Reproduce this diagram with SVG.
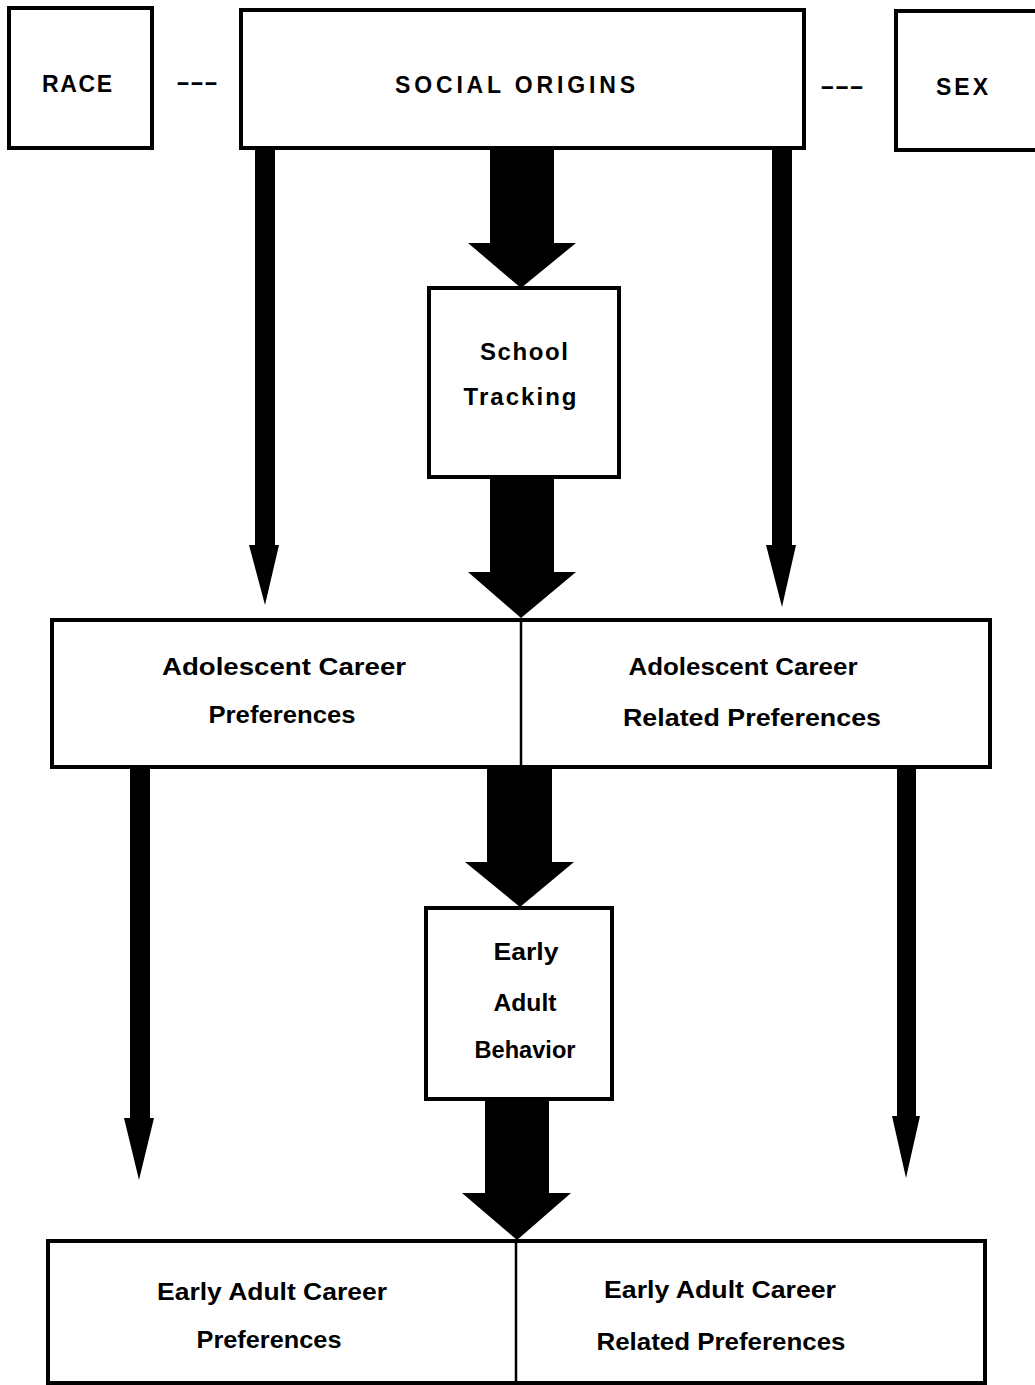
<svg xmlns="http://www.w3.org/2000/svg" width="1035" height="1385" viewBox="0 0 1035 1385">
<style>
.box{fill:#fff;stroke:#000;stroke-width:4}
.div{stroke:#000;stroke-width:2.5}
.t{font-family:"Liberation Sans",Arial,sans-serif;font-weight:bold;font-size:24px;fill:#000;text-anchor:middle}
.cap{font-size:23px}
.arr{fill:#000}
</style>
<rect width="1035" height="1385" fill="#fff"/>
<g id="connectors">
<polygon class="arr" points="255,148 275,148 275,545 279,545 265,605 249,545 255,545"/>
<polygon class="arr" points="772,148 792,148 792,545 796,545 782,607 766,545 772,545"/>
<polygon class="arr" points="490,148 554,148 554,243 576,243 521,288 468,243 490,243"/>
<polygon class="arr" points="490,477 554,477 554,572 576,572 521,618 468,572 490,572"/>
<polygon class="arr" points="130,767 150,767 150,1118 154,1118 139,1180 124,1118 130,1118"/>
<polygon class="arr" points="897,767 916,767 916,1116 920,1116 906,1178 892,1116 897,1116"/>
<polygon class="arr" points="487,767 552,767 552,862 574,862 520,907 465,862 487,862"/>
<polygon class="arr" points="485,1099 549,1099 549,1193 571,1193 517,1240 462,1193 485,1193"/>
<text class="t" x="197" y="90" textLength="42" lengthAdjust="spacingAndGlyphs">---</text>
<text class="t" x="842" y="94" textLength="44" lengthAdjust="spacingAndGlyphs">---</text>
</g>
<g id="race">
<rect class="box" x="9" y="8" width="143" height="140"/>
<text class="t cap" x="77" y="92" textLength="70">RACE</text>
</g>
<g id="social-origins">
<rect class="box" x="241" y="10" width="563" height="138"/>
<text class="t cap" x="515" y="93" textLength="240">SOCIAL  ORIGINS</text>
</g>
<g id="sex">
<rect class="box" x="896" y="11" width="145" height="139"/>
<text class="t cap" x="962" y="95" textLength="52">SEX</text>
</g>
<g id="school-tracking">
<rect class="box" x="429" y="288" width="190" height="189"/>
<text class="t" x="524" y="360" textLength="88">School</text>
<text class="t" x="520" y="405" textLength="113">Tracking</text>
</g>
<g id="adolescent">
<rect class="box" x="52" y="620" width="938" height="147"/>
<line class="div" x1="521" y1="620" x2="521" y2="767"/>
</g>
<g id="adolescent-career-preferences">
<text class="t" x="284" y="675" textLength="244" lengthAdjust="spacingAndGlyphs">Adolescent  Career</text>
<text class="t" x="282" y="723" textLength="147" lengthAdjust="spacingAndGlyphs">Preferences</text>
</g>
<g id="adolescent-related-preferences">
<text class="t" x="743" y="675" textLength="229" lengthAdjust="spacingAndGlyphs">Adolescent Career</text>
<text class="t" x="752" y="726" textLength="258" lengthAdjust="spacingAndGlyphs">Related  Preferences</text>
</g>
<g id="early-adult-behavior">
<rect class="box" x="426" y="908" width="186" height="191"/>
<text class="t" x="526" y="960" textLength="65" lengthAdjust="spacingAndGlyphs">Early</text>
<text class="t" x="525" y="1011" textLength="63" lengthAdjust="spacingAndGlyphs">Adult</text>
<text class="t" x="525" y="1058" textLength="101" lengthAdjust="spacingAndGlyphs">Behavior</text>
</g>
<g id="early-adult">
<rect class="box" x="48" y="1241" width="937" height="142"/>
<line class="div" x1="516" y1="1241" x2="516" y2="1383"/>
</g>
<g id="early-adult-career-preferences">
<text class="t" x="272" y="1300" textLength="230" lengthAdjust="spacingAndGlyphs">Early  Adult Career</text>
<text class="t" x="269" y="1348" textLength="145" lengthAdjust="spacingAndGlyphs">Preferences</text>
</g>
<g id="early-adult-related-preferences">
<text class="t" x="720" y="1298" textLength="232" lengthAdjust="spacingAndGlyphs">Early  Adult Career</text>
<text class="t" x="721" y="1350" textLength="249" lengthAdjust="spacingAndGlyphs">Related Preferences</text>
</g>
</svg>
